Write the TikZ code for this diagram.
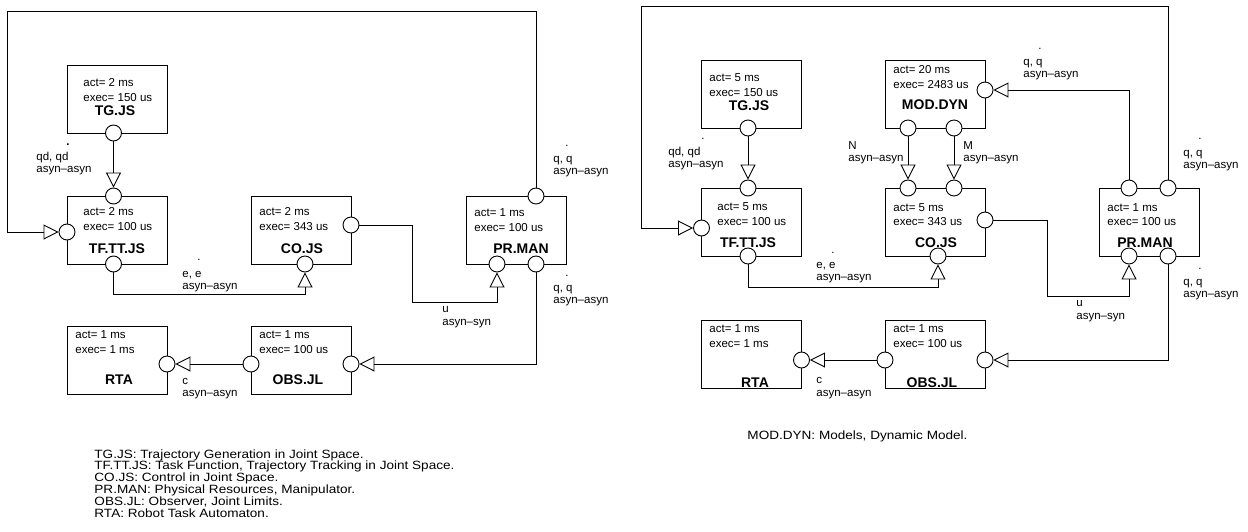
\documentclass[tikz,border=0pt]{standalone}
\usepackage{fontspec}
\setmainfont{Liberation Sans}
\newfontfamily\keyfont[FakeStretch=1.13]{Liberation Sans}
\usetikzlibrary{arrows.meta}

\tikzset{
  box/.style={draw, minimum width=100pt, minimum height=68pt, inner sep=0pt},
  port/.style={circle, draw, fill=white, minimum size=16pt, inner sep=0pt},
  conn/.style={draw, -{Triangle[open, length=15pt, width=15pt]}},
  info/.style={anchor=base west, inner sep=0pt, font=\fontsize{11.5}{13}\selectfont},
  taskname/.style={anchor=base, inner sep=0pt, font=\fontsize{14}{16}\selectfont\bfseries},
  lbl/.style={anchor=base west, inner sep=0pt, align=left, font=\fontsize{11.5}{12.5}\selectfont},
  dotmark/.style={anchor=base, inner sep=0pt, font=\fontsize{11.5}{12.5}\selectfont},
  legend/.style={anchor=base west, inner sep=0pt, font=\keyfont\fontsize{12}{14}\selectfont},
}

\begin{document}
\begin{tikzpicture}[x=1pt, y=-1pt, line width=0.9pt]
\useasboundingbox (0,0) rectangle (1248,531);

% left chain, no dynamic model
\node[box] (tgL) at (117,99) {};
\node[box] (tfL) at (117,230) {};
\node[box] (coL) at (301,230) {};
\node[box] (prL) at (516,230) {};
\node[box] (rtaL) at (117,360) {};
\node[box] (obsL) at (301,360) {};

\node[info] (tgL-a) at (83,86) {act= 2 ms};
\node[info] (tgL-x) at (83,101) {exec= 150 us};
\node[taskname] (tgL-t) at (115,115) {TG.JS};
\node[info] (tfL-a) at (83,215) {act= 2 ms};
\node[info] (tfL-x) at (83,230) {exec= 100 us};
\node[taskname] (tfL-t) at (117,253) {TF.TT.JS};
\node[info] (coL-a) at (259,215) {act= 2 ms};
\node[info] (coL-x) at (259,230) {exec= 343 us};
\node[taskname] (coL-t) at (302,253) {CO.JS};
\node[info] (prL-a) at (474,216) {act= 1 ms};
\node[info] (prL-x) at (474,231) {exec= 100 us};
\node[taskname] (prL-t) at (521,253) {PR.MAN};
\node[info] (rtaL-a) at (75,338) {act= 1 ms};
\node[info] (rtaL-x) at (75,353) {exec= 1 ms};
\node[taskname] (rtaL-t) at (119,384) {RTA};
\node[info] (obsL-a) at (259,338) {act= 1 ms};
\node[info] (obsL-x) at (259,353) {exec= 100 us};
\node[taskname] (obsL-t) at (298,384) {OBS.JL};

\node[port] (tgL-s) at (113.5,133) {};
\node[port] (tfL-n) at (113.5,196) {};
\node[port] (tfL-w) at (67,232) {};
\node[port] (tfL-s) at (113.5,264) {};
\node[port] (coL-e) at (351,225) {};
\node[port] (coL-s) at (305,264) {};
\node[port] (prL-n) at (536,196) {};
\node[port] (prL-sw) at (497,264) {};
\node[port] (prL-se) at (536,264) {};
\node[port] (rtaL-e) at (167,364) {};
\node[port] (obsL-w) at (251,364) {};
\node[port] (obsL-e) at (351,364) {};

\draw[conn] (tgL-s) -- (tfL-n);
\draw[conn] (prL-n) |- (7,11) |- (tfL-w);
\draw[conn] (tfL-s) -- ++(0,30) -| (coL-s);
\draw[conn] (coL-e) -| (412,302) -| (prL-sw);
\draw[conn] (prL-se) |- (obsL-e);
\draw[conn] (obsL-w) -- (rtaL-e);

\node[dotmark, font=\fontsize{11.5}{12.5}\selectfont\bfseries] (qdL-d) at (68,145) {.};
\node[lbl] (qdL) at (36,172.5) {qd, qd\\asyn--asyn};
\node[dotmark] (eL-d) at (199,260) {.};
\node[lbl] (eL) at (182,289.5) {e, e\\asyn--asyn};
\node[dotmark] (qtL-d) at (567,146) {.};
\node[lbl] (qtL) at (553,174.5) {q, q\\asyn--asyn};
\node[dotmark] (qbL-d) at (567,276) {.};
\node[lbl] (qbL) at (553,303.5) {q, q\\asyn--asyn};
\node[lbl] (uL) at (442,325) {u\\asyn--syn};
\node[lbl] (cL) at (182,396.5) {c\\asyn--asyn};

% right chain, with dynamic model
\node[box] (tgR) at (751.5,94) {};
\node[box] (mdR) at (935,94) {};
\node[box] (tfR) at (751.5,222) {};
\node[box] (coR) at (935,222) {};
\node[box] (prR) at (1149.5,222) {};
\node[box] (rtaR) at (751.5,354) {};
\node[box] (obsR) at (935,354) {};

\node[info] (tgR-a) at (709,81) {act= 5 ms};
\node[info] (tgR-x) at (709,96) {exec= 150 us};
\node[taskname] (tgR-t) at (749,110) {TG.JS};
\node[info] (mdR-a) at (893,73) {act= 20 ms};
\node[info] (mdR-x) at (893,88) {exec= 2483 us};
\node[taskname] (mdR-t) at (935,109) {MOD.DYN};
\node[info] (tfR-a) at (717,210) {act= 5 ms};
\node[info] (tfR-x) at (717,225) {exec= 100 us};
\node[taskname] (tfR-t) at (748,247) {TF.TT.JS};
\node[info] (coR-a) at (893,211) {act= 5 ms};
\node[info] (coR-x) at (893,225) {exec= 343 us};
\node[taskname] (coR-t) at (936,247) {CO.JS};
\node[info] (prR-a) at (1107,211) {act= 1 ms};
\node[info] (prR-x) at (1107,225) {exec= 100 us};
\node[taskname] (prR-t) at (1145,247) {PR.MAN};
\node[info] (rtaR-a) at (709,332) {act= 1 ms};
\node[info] (rtaR-x) at (709,347) {exec= 1 ms};
\node[taskname] (rtaR-t) at (755,387) {RTA};
\node[info] (obsR-a) at (893,332) {act= 1 ms};
\node[info] (obsR-x) at (893,347) {exec= 100 us};
\node[taskname] (obsR-t) at (932,387) {OBS.JL};

\node[port] (tgR-s) at (748,128) {};
\node[port] (mdR-e) at (985,90) {};
\node[port] (mdR-sw) at (908,128) {};
\node[port] (mdR-se) at (954,128) {};
\node[port] (tfR-n) at (748,188) {};
\node[port] (tfR-w) at (701.5,228) {};
\node[port] (tfR-s) at (748,256) {};
\node[port] (coR-nw) at (908,188) {};
\node[port] (coR-ne) at (954,188) {};
\node[port] (coR-e) at (985,220) {};
\node[port] (coR-s) at (938,256) {};
\node[port] (prR-nw) at (1129,188) {};
\node[port] (prR-ne) at (1168,188) {};
\node[port] (prR-sw) at (1129,256) {};
\node[port] (prR-se) at (1168,256) {};
\node[port] (rtaR-e) at (801.5,360) {};
\node[port] (obsR-w) at (885,360) {};
\node[port] (obsR-e) at (985,360) {};

\draw[conn] (tgR-s) -- (tfR-n);
\draw[conn] (prR-ne) |- (641,6) |- (tfR-w);
\draw[conn] (prR-nw) |- (mdR-e);
\draw[conn] (mdR-sw) -- (coR-nw);
\draw[conn] (mdR-se) -- (coR-ne);
\draw[conn] (tfR-s) -- ++(0,31) -| (coR-s);
\draw[conn] (coR-e) -| (1047,296) -| (prR-sw);
\draw[conn] (prR-se) |- (obsR-e);
\draw[conn] (obsR-w) -- (rtaR-e);

\node[dotmark] (qdR-d) at (703,139) {.};
\node[lbl] (qdR) at (668,167.5) {qd, qd\\asyn--asyn};
\node[lbl] (nR) at (848,161.5) {N\\asyn--asyn};
\node[lbl] (mR) at (963,161.5) {M\\asyn--asyn};
\node[dotmark] (qmR-d) at (1040,49) {.};
\node[lbl] (qmR) at (1023,77.5) {q, q\\asyn--asyn};
\node[dotmark] (qtR-d) at (1200,139) {.};
\node[lbl] (qtR) at (1183,168.5) {q, q\\asyn--asyn};
\node[dotmark] (qbR-d) at (1200,269) {.};
\node[lbl] (qbR) at (1183,297.5) {q, q\\asyn--asyn};
\node[dotmark] (eR-d) at (833,253) {.};
\node[lbl] (eR) at (816,280.5) {e, e\\asyn--asyn};
\node[lbl] (uR) at (1076,319) {u\\asyn--syn};
\node[lbl] (cR) at (816,396) {c\\asyn--asyn};

% abbreviations
\node[legend] (key1) at (94,458) {TG.JS: Trajectory Generation in Joint Space.};
\node[legend] (key2) at (94,469.8) {TF.TT.JS: Task Function, Trajectory Tracking in Joint Space.};
\node[legend] (key3) at (94,481.6) {CO.JS: Control in Joint Space.};
\node[legend] (key4) at (94,493.4) {PR.MAN: Physical Resources, Manipulator.};
\node[legend] (key5) at (94,505.2) {OBS.JL: Observer, Joint Limits.};
\node[legend] (key6) at (94,517) {RTA: Robot Task Automaton.};
\node[legend] (key7) at (747,439) {MOD.DYN: Models, Dynamic Model.};
\end{tikzpicture}
\end{document}
